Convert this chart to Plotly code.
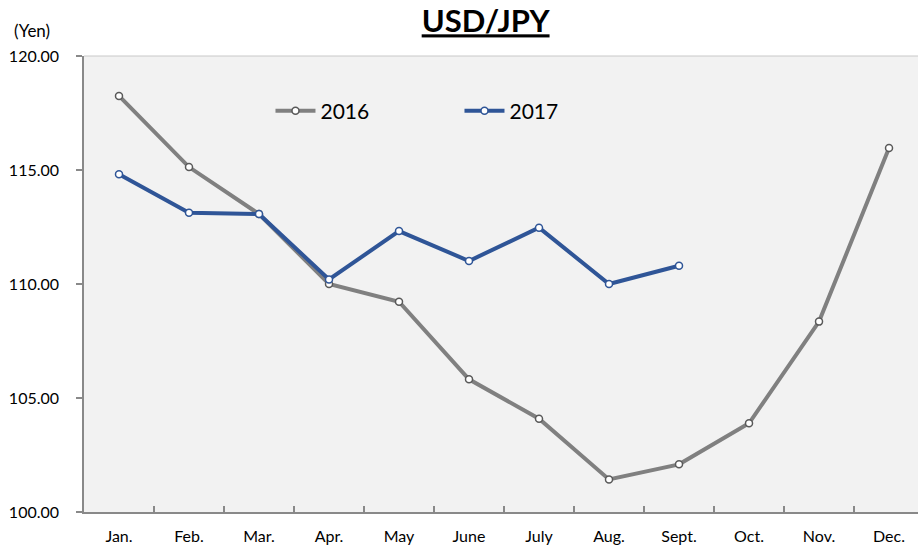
import plotly.graph_objects as go

months = ["Jan.", "Feb.", "Mar.", "Apr.", "May", "June", "July", "Aug.", "Sept.", "Oct.", "Nov.", "Dec."]
y2016 = [118.25, 115.13, 113.07, 110.00, 109.22, 105.82, 104.09, 101.43, 102.09, 103.89, 108.35, 115.96]
y2017 = [114.81, 113.13, 113.07, 110.20, 112.32, 111.01, 112.47, 110.00, 110.80]
ytick_vals = [100, 105, 110, 115, 120]
ytick_text = ["100.00", "105.00", "110.00", "115.00", "120.00"]

FONT = "Lato"
GRAY = "#808080"
BLUE = "#2F5597"

fig = go.Figure()
fig.add_trace(go.Scatter(
    x=months, y=y2016, name="2016", mode="lines+markers",
    line=dict(color=GRAY, width=4),
    marker=dict(symbol="circle", size=7, color="white", line=dict(color="#595959", width=1.5)),
))
fig.add_trace(go.Scatter(
    x=months[:len(y2017)], y=y2017, name="2017", mode="lines+markers",
    line=dict(color=BLUE, width=4),
    marker=dict(symbol="circle", size=7, color="white", line=dict(color=BLUE, width=1.5)),
))

fig.update_layout(
    width=918, height=551,
    margin=dict(l=84, r=0, t=56, b=39),
    paper_bgcolor="white",
    plot_bgcolor="#F2F2F2",
    font=dict(family=FONT, color="black"),
    title=dict(text="<b><u>USD/JPY</u></b>", x=0.529, xanchor="center", y=0.961, yanchor="middle",
               font=dict(size=31, family=FONT, color="black")),
    showlegend=True,
    legend=dict(orientation="h", x=0.2236, xanchor="left", y=0.879, yanchor="middle",
                bgcolor="rgba(0,0,0,0)", font=dict(size=21, family=FONT),
                entrywidth=134, itemwidth=40, tracegroupgap=0),
    xaxis=dict(type="category", categoryorder="array", categoryarray=months,
               range=[-0.5, 11.414], showgrid=False, zeroline=False,
               showline=True, linecolor="#898989", linewidth=1.5,
               ticks="inside", tickson="boundaries", ticklen=6, tickcolor="#898989", tickwidth=1.5,
               tickfont=dict(size=16, family=FONT), ticklabelstandoff=9, fixedrange=True),
    yaxis=dict(range=[100, 120], tickvals=ytick_vals, ticktext=ytick_text,
               showgrid=False, zeroline=False,
               showline=True, linecolor="#898989", linewidth=1.5,
               ticks="outside", ticklen=6, tickcolor="#898989", tickwidth=1.5,
               tickfont=dict(size=16, family=FONT), ticklabelstandoff=14, fixedrange=True),
    shapes=[dict(type="line", xref="paper", yref="paper", x0=0, x1=1, y0=1, y1=1,
                 line=dict(color="#C8C8C8", width=1))],
    annotations=[dict(text="(Yen)", xref="paper", yref="paper", x=-0.0863, y=1.057,
                      xanchor="left", yanchor="middle", showarrow=False,
                      font=dict(size=17, family=FONT, color="black"))],
)

fig.write_html("out.html", config={"displayModeBar": False},
               post_script="document.body.style.margin='0';")
